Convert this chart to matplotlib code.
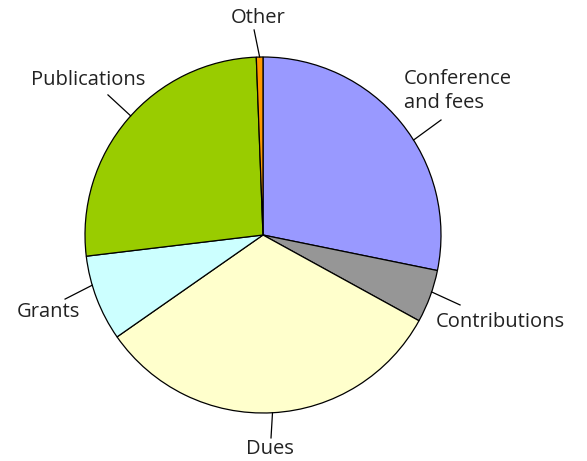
import numpy as np
import matplotlib
matplotlib.use("Agg")
import matplotlib.pyplot as plt

categories = ["Conference\nand fees", "Contributions", "Dues", "Grants", "Publications", "Other"]
values = [28.2, 4.8, 32.3, 7.8, 26.3, 0.6]
colors = ["#9999FF", "#969696", "#FFFFCC", "#CCFFFF", "#99CC00", "#FF9900"]

plt.rcParams['font.family'] = ['Open Sans', 'DejaVu Sans']

fig = plt.figure(figsize=(5.87, 4.61), dpi=100)
cx, cy = 263 / 587, 1 - 235 / 461
rw, rh = 178 / 587, 178 / 461
ax = fig.add_axes([cx - rw, cy - rh, 2 * rw, 2 * rh])
wedges, _ = ax.pie(values, colors=colors, startangle=90, counterclock=False,
                   radius=1.0, wedgeprops=dict(edgecolor="black", linewidth=0.9))
ax.set_xlim(-1, 1)
ax.set_ylim(-1, 1)
ax.set_aspect("equal")
ax.axis("off")

# label placement: (leader angle offset from wedge middle, line end, text pos, alignment)
layout = {
    "Conference\nand fees": (-7.0, (1.0, 0.646), (0.792, 0.81), "left", "center"),
    "Contributions": (1.5, (1.107, -0.393), (0.972, -0.489), "left", "center"),
    "Dues": (0.0, (0.045, -1.14), (0.039, -1.205), "center", "center"),
    "Grants": (-4.5, (-1.112, -0.36), (-1.03, -0.43), "right", "center"),
    "Publications": (-1.5, (-0.871, 0.787), (-0.983, 0.87), "center", "center"),
    "Other": (0.0, (-0.05, 1.152), (-0.028, 1.218), "center", "center"),
}
for w, lab in zip(wedges, categories):
    off, (lx, ly), (tx, ty), ha, va = layout[lab]
    ang = np.deg2rad((w.theta1 + w.theta2) / 2 + off)
    ex, ey = np.cos(ang), np.sin(ang)
    ax.plot([ex, lx], [ey, ly], color="black", lw=0.9, clip_on=False)
    ax.text(tx, ty, lab, ha=ha, va=va, fontsize=14.5, color="#222222",
            linespacing=1.3, clip_on=False)

fig.savefig("out.png", dpi=100)
